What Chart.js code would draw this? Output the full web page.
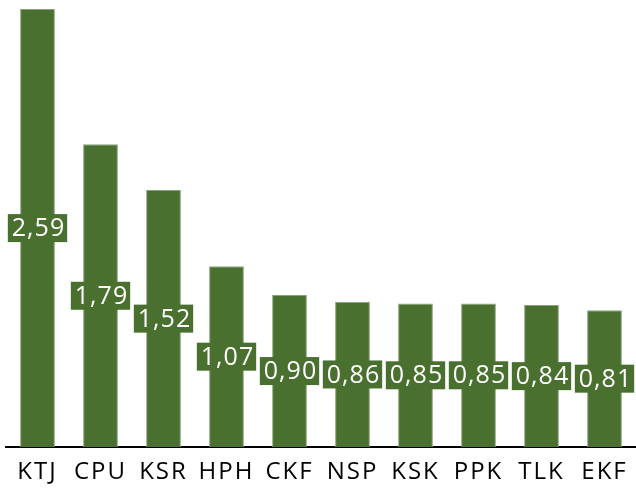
<!DOCTYPE html>
<html lang="pl">
<head>
    <meta charset="UTF-8">
    <title>Wykres</title>
    <style>
        body {
            margin: 0;
            background: #ffffff;
        }
        canvas {
            display: block;
        }
    </style>
</head>
<body>
<canvas id="chart" width="636" height="491"></canvas>

<script src="https://cdn.jsdelivr.net/npm/chart.js"></script>
<script>
    // dane wykresu
    const categories = ['KTJ', 'CPU', 'KSR', 'HPH', 'CKF', 'NSP', 'KSK', 'PPK', 'TLK', 'EKF'];
    const values = [2.59, 1.79, 1.52, 1.07, 0.90, 0.86, 0.85, 0.85, 0.84, 0.81];

    const barColor = '#4a7030';

    // odstęp między literami dla podpisów osi
    const letterSpacing = {
        id: 'letterSpacing',
        beforeDraw(chart) {
            chart.ctx.letterSpacing = '2px';
        }
    };

    // etykiety wartości na środku słupka
    const valueLabels = {
        id: 'valueLabels',
        afterDatasetsDraw(chart) {
            const ctx = chart.ctx;
            const meta = chart.getDatasetMeta(0);
            ctx.save();
            ctx.letterSpacing = '1px';
            ctx.font = '25px "Open Sans", sans-serif';
            ctx.textAlign = 'center';
            ctx.textBaseline = 'middle';
            meta.data.forEach((bar, i) => {
                const text = values[i].toFixed(2).replace('.', ',');
                const cy = (bar.y + bar.base) / 2;
                const w = ctx.measureText(text).width + 6;
                const h = 28;
                ctx.fillStyle = barColor;
                ctx.fillRect(bar.x - w / 2, cy - h / 2, w, h);
                ctx.fillStyle = '#ffffff';
                ctx.fillText(text, bar.x + 1, cy + 1);
            });
            ctx.restore();
        }
    };

    new Chart(document.getElementById('chart'), {
        type: 'bar',
        data: {
            labels: categories,
            datasets: [{
                data: values,
                backgroundColor: barColor,
                borderColor: '#8aa27a',
                borderWidth: 1,
                barPercentage: 0.552,
                categoryPercentage: 1.0
            }]
        },
        options: {
            responsive: false,
            animation: false,
            layout: {
                padding: { left: 6, right: -4, top: 9, bottom: 1 }
            },
            scales: {
                x: {
                    grid: { display: false },
                    border: { display: true, color: '#000000', width: 2 },
                    ticks: {
                        color: '#000000',
                        font: { family: '"Open Sans", sans-serif', size: 24 },
                        padding: 3
                    }
                },
                y: {
                    display: false,
                    min: 0,
                    max: 2.59
                }
            },
            plugins: {
                legend: { display: false },
                tooltip: { enabled: false }
            }
        },
        plugins: [letterSpacing, valueLabels]
    });
</script>
</body>
</html>
